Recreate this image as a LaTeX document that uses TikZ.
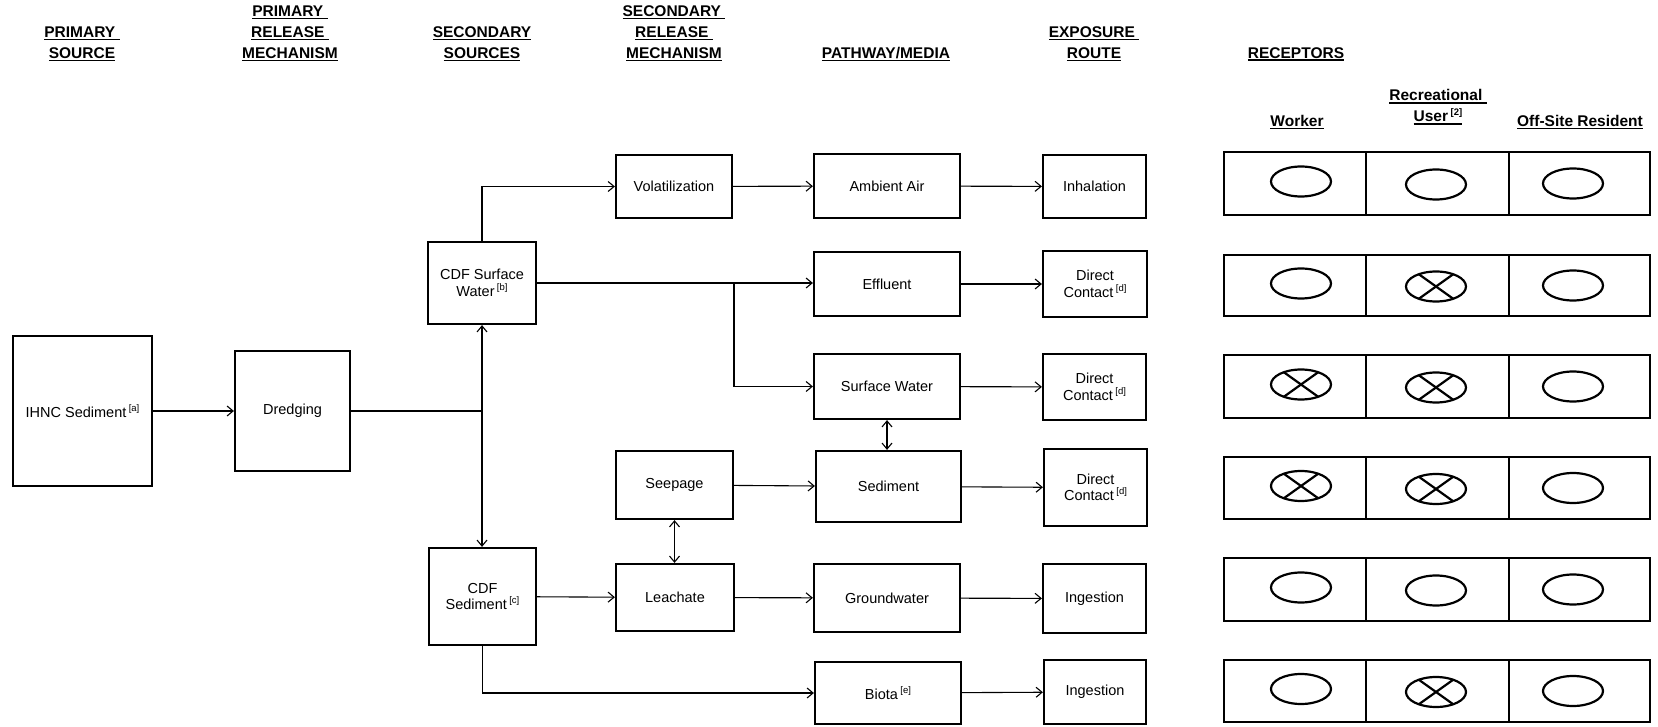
\documentclass[tikz,border=0pt]{standalone}
\usepackage{fontspec}
\setmainfont{Liberation Sans}
\usetikzlibrary{arrows.meta}
\newcommand\fnm[1]{\,\raisebox{0.42em}{\fontsize{9.5}{9.5}\selectfont[#1]}}
\newcommand\hul[1]{\setbox0=\hbox{#1}\leavevmode\rlap{\rule[-2.8pt]{\wd0}{1.5pt}}\box0}
\newcommand\bx[6]{\node[box, minimum width={#4-#2}, minimum height={#5-#3}] (#1) at ({(#2+#4)/2},{(#3+#5)/2}) {#6};}
\newcommand\cellmark[3]{%
  \draw[ell] (#1,#2) ellipse [x radius=30, y radius=15];
  \ifnum#3=1
    \draw[ell] ([shift={(125:30 and 15)}]#1,#2) -- ([shift={(305:30 and 15)}]#1,#2);
    \draw[ell] ([shift={(55:30 and 15)}]#1,#2) -- ([shift={(235:30 and 15)}]#1,#2);
  \fi}
\begin{document}
\begin{tikzpicture}[x=1pt,y=-1pt,
  box/.style={draw, line width=2.2pt, align=center, inner sep=2pt,
    font=\fontsize{14.5}{16.5}\selectfont},
  hd/.style={align=center, inner sep=0pt, font=\bfseries\fontsize{15.5}{21}\selectfont},
  tip/.tip={Straight Barb[length=6pt,width=10pt,line width=1.1pt]},
  conn/.style={line width=1.1pt, -tip},
  dconn/.style={line width=1.1pt, tip-tip},
  plain/.style={line width=1.1pt},
  rowbox/.style={line width=2.6pt},
  divider/.style={line width=1.6pt},
  ell/.style={line width=2.2pt}]
\useasboundingbox (0,0) rectangle (1658,727);

% headers
\node[hd] (h1) at (82,44) {\hul{PRIMARY\ }\\\hul{SOURCE}};
\node[hd] (h2) at (290,33.5) {\hul{PRIMARY\ }\\\hul{RELEASE\ }\\\hul{MECHANISM}};
\node[hd] (h3) at (482,44) {\hul{SECONDARY}\\\hul{SOURCES}};
\node[hd] (h4) at (674,33.5) {\hul{SECONDARY\ }\\\hul{RELEASE\ }\\\hul{MECHANISM}};
\node[hd] (h5) at (886,54) {\hul{PATHWAY/MEDIA}};
\node[hd] (h6) at (1094,44) {\hul{EXPOSURE\ }\\\hul{ROUTE}};
\node[hd] (h7) at (1296,54) {\hul{RECEPTORS}};
\node[hd] (rw) at (1297,122) {\hul{Worker}};
\node[hd] (rr) at (1438,107) {\hul{Recreational\ }\\\hul{User\fnm{2}}};
\node[hd] (ro) at (1580,122) {\hul{Off-Site Resident}};

% boxes
\bx{ihnc}{13}{336}{152}{486}{IHNC Sediment\fnm{a}}
\bx{dred}{235}{351}{350}{471}{Dredging}
\bx{csw}{428}{242}{536}{324}{CDF Surface\\Water\fnm{b}}
\bx{csed}{429}{548}{536}{645}{CDF\\Sediment\fnm{c}}
\bx{vol}{616}{155}{732}{218}{Volatilization}
\bx{seep}{616}{451}{733}{519}{Seepage}
\bx{lea}{616}{564}{734}{631}{Leachate}
\bx{air}{814}{154}{960}{218}{Ambient Air}
\bx{eff}{814}{252}{960}{316}{Effluent}
\bx{sw}{814}{354}{960}{419}{Surface Water}
\bx{sed}{816}{451}{961}{522}{Sediment}
\bx{gw}{814}{564}{960}{632}{Groundwater}
\bx{bio}{815}{662}{961}{724}{Biota\fnm{e}}
\bx{inh}{1043}{155}{1146}{218}{Inhalation}
\bx{dc1}{1043}{251}{1147}{317}{Direct\\Contact\fnm{d}}
\bx{dc2}{1043}{354}{1146}{420}{Direct\\Contact\fnm{d}}
\bx{dc3}{1044}{449}{1147}{526}{Direct\\Contact\fnm{d}}
\bx{ing1}{1043}{564}{1146}{633}{Ingestion}
\bx{ing2}{1044}{660}{1146}{724}{Ingestion}

% connectors
\draw[conn] (ihnc) -- (dred);
\coordinate (jd) at (csw.south |- dred.east);
\draw[plain] (dred.east) -- (jd);
\draw[dconn] (csw.south) -- (csw.south |- csed.north);
\draw[conn] (csw.north) |- (vol.west);
\draw[conn] (csw.east) -- (csw.east -| eff.west);
\coordinate (je) at (734,283);
\draw[conn] (je) |- (sw.west);
\draw[conn] (vol) -- (air);
\draw[conn] (air) -- (inh);
\draw[conn] (eff) -- (dc1);
\draw[conn] (sw) -- (dc2);
\draw[dconn] (sw.south) -- (sw.south |- sed.north);
\draw[conn] (seep) -- (sed);
\draw[dconn] (seep.south) -- (seep.south |- lea.north);
\draw[conn] (csed) -- (lea);
\draw[conn] (lea) -- (gw);
\draw[conn] (gw) -- (ing1);
\draw[conn] (sed) -- (dc3);
\draw[conn] (csed.south) |- (bio.west);
\draw[conn] (bio) -- (ing2);

% receptor table
\foreach \ya/\yb/\w/\r/\o in {152/215/0/0/0, 255/316/0/1/0, 355/418/1/1/0, 457/519/1/1/0, 558/621/0/0/0, 660/722/0/1/0}{
  \pgfmathsetmacro\yc{(\ya+\yb)/2}
  \draw[rowbox] (1224,\ya) rectangle (1650,\yb);
  \draw[divider] (1366,\ya) -- (1366,\yb);
  \draw[divider] (1509,\ya) -- (1509,\yb);
  \cellmark{1301}{\yc-2}{\w}
  \cellmark{1436}{\yc+1}{\r}
  \cellmark{1573}{\yc}{\o}
}
\end{tikzpicture}
\end{document}
